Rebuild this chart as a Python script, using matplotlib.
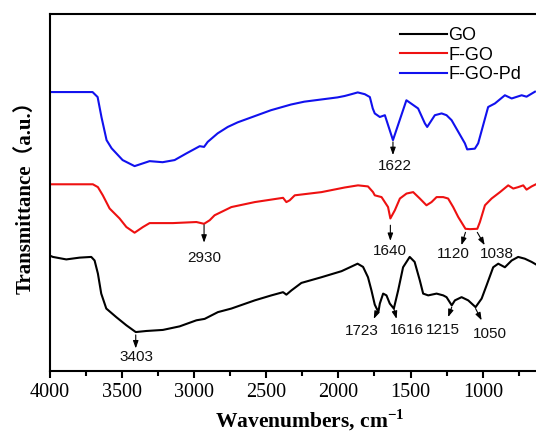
import matplotlib
matplotlib.use("Agg")
import matplotlib.pyplot as plt

plt.rcParams["mathtext.fontset"] = "custom"
plt.rcParams["mathtext.rm"] = "Liberation Serif"
plt.rcParams["mathtext.bf"] = "Liberation Serif:bold"

# FTIR spectra (wavenumber in cm^-1, transmittance in arbitrary units, offset per sample)
wn_go = [4000, 3977, 3884, 3792, 3711, 3688, 3665, 3642, 3607, 3538, 3468, 3403, 3330,
         3215, 3099, 2983, 2926, 2834, 2741, 2579, 2464, 2383, 2360, 2325, 2256, 2117,
         1978, 1909, 1867, 1829, 1795, 1771, 1748, 1723, 1713, 1690, 1667, 1644, 1616,
         1586, 1552, 1506, 1472, 1436, 1413, 1378, 1320, 1274, 1251, 1215, 1193, 1147,
         1101, 1050, 1008, 974, 928, 893, 847, 800, 755, 709, 662, 632]
t_go = [32.3, 31.9, 31.2, 31.7, 31.9, 30.9, 27.2, 21.6, 17.4, 15.0, 12.7, 10.8, 11.1,
        11.4, 12.4, 14.1, 14.5, 16.4, 17.4, 19.7, 21.1, 22.0, 21.3, 22.5, 24.6, 26.2,
        27.9, 29.2, 30.0, 29.1, 26.2, 22.5, 18.5, 16.4, 18.8, 21.6, 21.1, 18.8, 17.4,
        22.5, 29.0, 31.9, 30.5, 25.3, 21.6, 21.1, 21.6, 21.1, 20.6, 18.3, 19.7, 20.6,
        19.7, 17.8, 20.2, 23.9, 29.0, 30.0, 29.0, 30.9, 31.9, 31.4, 30.5, 29.8]

wn_fgo = [4000, 3700, 3665, 3631, 3584, 3515, 3468, 3411, 3353, 3307, 3146, 2983, 2930,
          2891, 2857, 2741, 2579, 2383, 2360, 2337, 2302, 2117, 1956, 1864, 1795, 1760,
          1748, 1701, 1656, 1640, 1609, 1574, 1528, 1482, 1436, 1390, 1355, 1320, 1274,
          1240, 1205, 1170, 1120, 1089, 1038, 1020, 985, 939, 881, 824, 789, 755, 720,
          697, 662, 632]
t_fgo = [52.3, 52.3, 51.5, 49.2, 45.5, 42.7, 40.3, 38.7, 40.3, 41.4, 41.4, 41.7, 41.2,
         42.2, 43.6, 45.9, 47.3, 48.5, 47.3, 47.8, 49.2, 50.1, 51.4, 52.0, 51.7, 50.1,
         49.2, 48.7, 45.9, 42.7, 45.0, 48.3, 49.7, 50.1, 48.3, 46.4, 47.3, 48.7, 48.7,
         48.3, 45.9, 43.1, 39.8, 39.7, 39.8, 41.7, 46.4, 48.3, 50.1, 52.0, 51.1, 51.5,
         52.0, 50.8, 51.7, 52.3]

wn_fgopd = [4000, 3702, 3667, 3640, 3605, 3570, 3494, 3411, 3307, 3217, 3134, 3051, 2960,
            2930, 2905, 2836, 2766, 2697, 2582, 2467, 2328, 2236, 2121, 2006, 1956, 1910,
            1866, 1817, 1782, 1762, 1748, 1713, 1678, 1622, 1529, 1448, 1401, 1385, 1332,
            1285, 1251, 1216, 1124, 1108, 1055, 1032, 963, 916, 847, 800, 731, 697, 639]
t_fgopd = [78.2, 78.2, 76.8, 71.1, 64.7, 62.4, 59.1, 57.4, 58.8, 58.5, 59.1, 61.0, 63.0,
           62.8, 64.2, 66.6, 68.4, 69.7, 71.4, 73.1, 74.7, 75.5, 76.1, 76.7, 77.1, 77.6,
           78.1, 77.6, 76.8, 73.6, 72.2, 71.2, 71.7, 64.7, 75.9, 73.6, 69.4, 68.4, 71.7,
           72.2, 71.7, 70.3, 63.8, 62.1, 62.3, 63.8, 74.0, 75.0, 77.3, 76.4, 77.3, 76.9, 78.3]

series_names = ["GO", "F-GO", "F-GO-Pd"]
series_colors = ["#000000", "#ee1111", "#1111ee"]

# Peak annotations: label, arrow tail (wn, t), arrow head (wn, t), text centre (wn, t)
peak_labels = ["3403", "2930", "1640", "1622", "1120", "1038", "1723", "1616", "1215", "1050"]
arrow_tail = [(3403, 10.0), (2930, 40.9), (1640, 40.8), (1622, 64.2), (1120, 38.8),
              (1038, 38.8), (1723, 17.4), (1616, 17.4), (1215, 17.8), (1050, 17.4)]
arrow_head = [(3403, 6.2), (2930, 35.9), (1640, 36.4), (1622, 60.5), (1148, 35.2),
              (987, 35.2), (1755, 14.5), (1597, 14.5), (1240, 15.0), (1008, 14.1)]
label_pos = [(3395, 3.7), (2932, 31.6), (1646, 33.7), (1609, 57.4), (1205, 32.8),
             (904, 32.8), (1835, 11.2), (1528, 11.4), (1274, 11.4), (951, 10.3)]

xticks = [4000, 3500, 3000, 2500, 2000, 1500, 1000]

fig = plt.figure(figsize=(5.36, 4.36), dpi=100)
ax = fig.add_axes([0.0924, 0.1502, 0.970, 0.8167])

for wn, t, name, col in zip([wn_go, wn_fgo, wn_fgopd], [t_go, t_fgo, t_fgopd],
                            series_names, series_colors):
    ax.plot(wn, t, color=col, lw=1.5, label=name)

for lab, tail, head, pos in zip(peak_labels, arrow_tail, arrow_head, label_pos):
    ax.annotate("", xy=head, xytext=tail,
                arrowprops=dict(arrowstyle="-|>,head_length=0.45,head_width=0.16",
                                color="black", lw=0.8, shrinkA=0, shrinkB=0))
    ax.text(pos[0], pos[1], lab, ha="center", va="center", fontsize=11,
            family="Liberation Sans", color="#111111")

ax.set_xlim(4000, 400)
ax.set_ylim(0, 100)
ax.set_xticks(xticks)
ax.set_xticklabels([str(v) for v in xticks], family="Liberation Serif", fontsize=14.5)
ax.xaxis.set_minor_locator(matplotlib.ticker.MultipleLocator(250))
ax.tick_params(axis="x", which="major", direction="out", length=5, width=1.5, pad=4)
ax.tick_params(axis="x", which="minor", direction="out", length=3.5, width=1.5)
ax.set_yticks([])
for sp in ax.spines.values():
    sp.set_linewidth(1.5)

ax.set_xlabel("Wavenumbers, cm$^{\\mathbf{-1}}$", family="Liberation Serif",
              fontweight="bold", fontsize=15.5, labelpad=4)
ax.set_ylabel("Transmittance\uff08a.u.\uff09", family=["Liberation Serif", "Noto Sans CJK SC"],
              fontweight="bold", fontsize=15, labelpad=10)

fig.legend(loc="upper left", bbox_to_anchor=(0.746, 0.9375), frameon=False,
           prop={"family": "Liberation Sans", "size": 13}, handlelength=2.6,
           handletextpad=0.1, labelspacing=0.14, borderpad=0, borderaxespad=0)

fig.savefig("out.png", dpi=100)
